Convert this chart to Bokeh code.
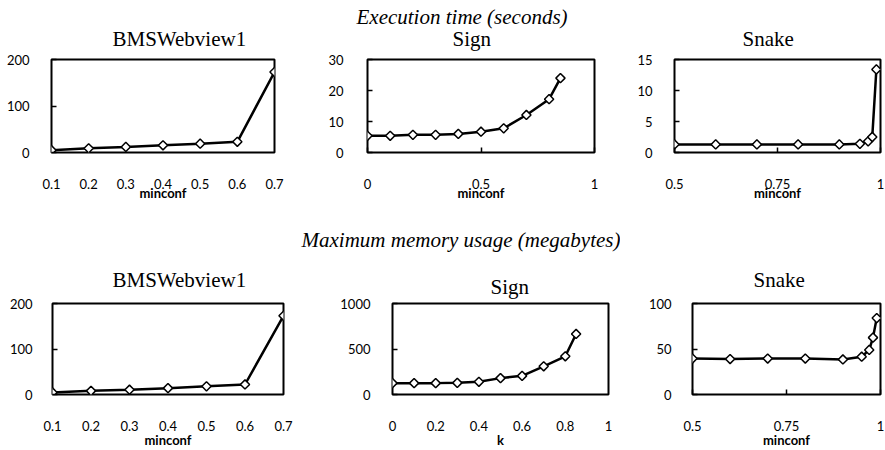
import math
from bokeh.plotting import figure
from bokeh.layouts import column, row
from bokeh.models import FixedTicker, NumeralTickFormatter, Range1d, Title
from bokeh.embed import file_html
from bokeh.resources import INLINE

# ---------------- data ----------------
bms_minconf = [0.1, 0.2, 0.3, 0.4, 0.5, 0.6, 0.7]
bms_time = [5, 9, 12, 15.5, 19, 23, 173]
bms_memory = [4.5, 8, 10.5, 14, 18, 22, 173]

sign_minconf = [0, 0.1, 0.2, 0.3, 0.4, 0.5, 0.6, 0.7, 0.8, 0.85]
sign_time = [5.4, 5.4, 5.7, 5.7, 6.0, 6.7, 7.8, 12.1, 17.2, 24.0]
sign_k = [0, 0.1, 0.2, 0.3, 0.4, 0.5, 0.6, 0.7, 0.8, 0.85]
sign_memory = [125, 125, 125, 128, 140, 180, 205, 310, 420, 665]

snake_minconf = [0.5, 0.6, 0.7, 0.8, 0.9, 0.95, 0.97, 0.98, 0.99]
snake_time = [1.3, 1.3, 1.3, 1.3, 1.3, 1.4, 1.8, 2.5, 13.4]
snake_memory = [39.5, 39, 39.5, 39.5, 38.5, 41.5, 49, 62.5, 84]

heading_time = "Execution time (seconds)"
heading_memory = "Maximum memory usage (megabytes)"

bms_xticks = [0.1, 0.2, 0.3, 0.4, 0.5, 0.6, 0.7]
sign_time_xticks = [0, 0.5, 1]
sign_mem_xticks = [0, 0.2, 0.4, 0.6, 0.8, 1]
snake_xticks = [0.5, 0.75, 1]

bms_yticks = [0, 100, 200]
sign_time_yticks = [0, 10, 20, 30]
snake_time_yticks = [0, 5, 10, 15]
sign_mem_yticks = [0, 500, 1000]
snake_mem_yticks = [0, 50, 100]

TICK_FONT = "Lato"
SERIF = "Liberation Serif"

TOP_H = 205
BOT_H = 245


def make_title(text, offset, standoff, style):
    return Title(text=text, align="left", offset=offset, standoff=standoff,
                 text_font=SERIF, text_font_size="21px",
                 text_font_style=style, text_color="black")


def panel(title, xs, ys, xlabel, xr, xticks, yr, yticks, width, height,
          bl, br, bt, bb, t_off, t_stand, x_tick_in, x_stand, x_lab_stand, y_stand,
          heading=None):
    p = figure(width=width, height=height, x_range=Range1d(*xr), y_range=Range1d(*yr),
               output_backend="svg", toolbar_location=None,
               min_border_left=bl, min_border_right=br,
               min_border_top=bt, min_border_bottom=bb)
    if heading is None:
        p.title = make_title(title, t_off, t_stand, "normal")
    else:
        h_text, h_off, h_stand = heading
        p.title = make_title(h_text, h_off, h_stand, "italic")
        p.add_layout(make_title(title, t_off, t_stand, "normal"), "above")
    p.background_fill_color = "white"
    p.border_fill_color = "white"
    p.outline_line_color = "black"
    p.outline_line_width = 2
    p.xgrid.visible = False
    p.ygrid.visible = False

    p.xaxis.ticker = FixedTicker(ticks=xticks)
    p.yaxis.ticker = FixedTicker(ticks=yticks)
    p.xaxis.formatter = NumeralTickFormatter(format="0.[00]")
    p.yaxis.formatter = NumeralTickFormatter(format="0")
    for ax in (p.xaxis[0], p.yaxis[0]):
        ax.axis_line_color = None
        ax.major_tick_out = 0
        ax.minor_tick_in = 0
        ax.minor_tick_out = 0
        ax.major_tick_line_color = "black"
        ax.major_tick_line_width = 1.5
        ax.major_label_text_font = TICK_FONT
        ax.major_label_text_font_size = "13px"
        ax.major_label_text_color = "black"
    p.yaxis.major_tick_in = 5
    p.xaxis.major_tick_in = x_tick_in
    p.xaxis.major_label_standoff = x_stand
    p.yaxis.major_label_standoff = y_stand
    p.xaxis.axis_label = xlabel
    p.xaxis.axis_label_text_font = TICK_FONT
    p.xaxis.axis_label_text_font_size = "13px"
    p.xaxis.axis_label_text_font_style = "bold"
    p.xaxis.axis_label_text_color = "black"
    p.xaxis.axis_label_standoff = x_lab_stand

    p.line(xs, ys, line_color="black", line_width=2.5)
    p.scatter(xs, ys, marker="square", size=6.5, angle=math.pi / 4,
              fill_color="white", line_color="black", line_width=1.5)
    return p


a1 = panel("BMSWebview1", bms_minconf, bms_time, "minconf", (0.1, 0.7), bms_xticks,
           (0, 200), bms_yticks, 300, TOP_H, 51, 26, 59, 53, 61, 18, 0, 26, -7, 22)
b1 = panel("Sign", sign_minconf, sign_time, "minconf", (0, 1), sign_time_xticks,
           (0, 30), sign_time_yticks, 320, TOP_H, 67, 26, 59, 53, 85, 18, 5, 26, -7, 24,
           heading=(heading_time, -11, -26))
c1 = panel("Snake", snake_minconf, snake_time, "minconf", (0.5, 1), snake_xticks,
           (0, 15), snake_time_yticks, 265, TOP_H, 54, 5, 59, 53, 68, 18, 5, 26, -7, 22)

a2 = panel("BMSWebview1", bms_minconf, bms_memory, "minconf", (0.1, 0.7), bms_xticks,
           (0, 200), bms_yticks, 300, BOT_H, 52, 17, 98, 53, 60, 24, 0, 26, -2, 20)
b2 = panel("Sign", sign_k, sign_memory, "k", (0, 1), sign_mem_xticks,
           (0, 1000), sign_mem_yticks, 320, BOT_H, 92, 12, 98, 53, 98, 10, 0, 26, -2, 22,
           heading=(heading_memory, -91, 32))
c2 = panel("Snake", snake_minconf, snake_memory, "minconf", (0.5, 1), snake_xticks,
           (0, 100), snake_mem_yticks, 265, BOT_H, 72, 5, 98, 53, 61, 24, 5, 26, -2, 21)

layout = column(
    row(a1, b1, c1, spacing=0),
    row(a2, b2, c2, spacing=0),
    spacing=0,
)

open("out.html", "w").write(file_html(layout, INLINE))
